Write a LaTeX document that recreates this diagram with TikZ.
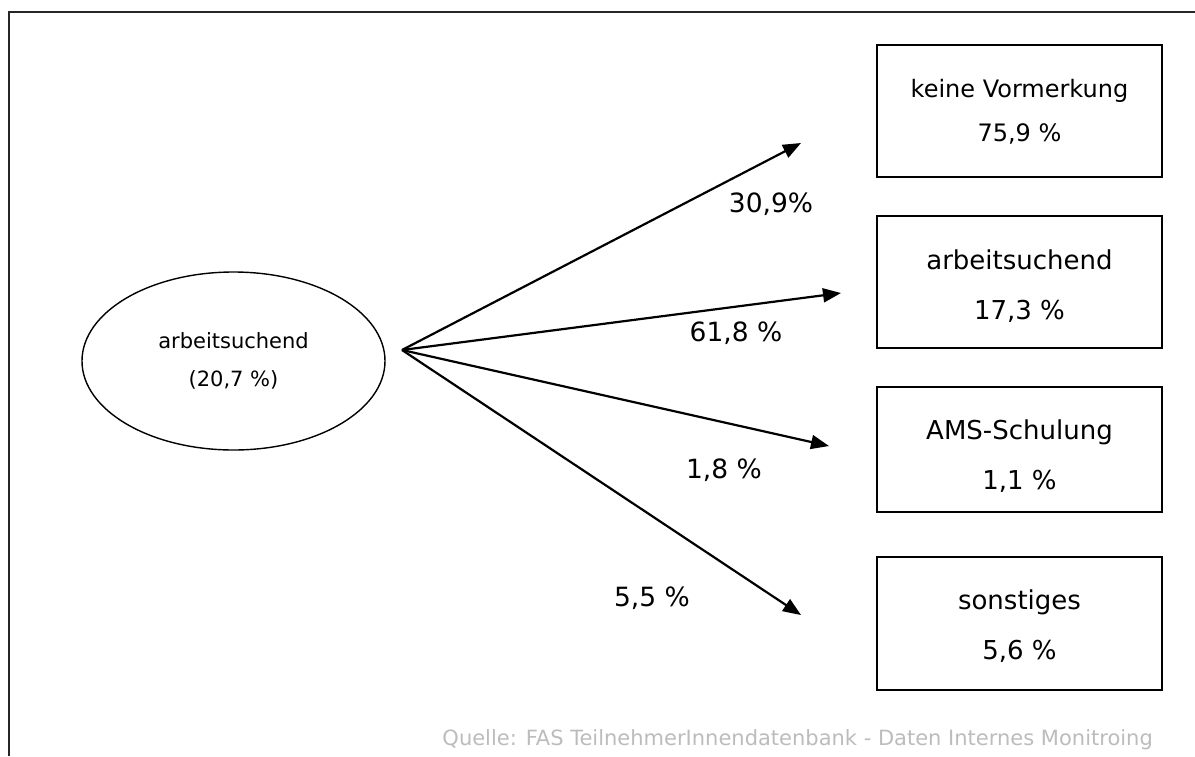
\documentclass[tikz,border=0pt]{standalone}
\usepackage{fontspec}
\setmainfont{DejaVu Sans}
\usetikzlibrary{arrows.meta,shapes.geometric}
\definecolor{footgrey}{RGB}{188,188,188}
\begin{document}
\begin{tikzpicture}[x=1pt,y=-1pt,
  boxnode/.style={draw,line width=1.8pt,minimum width=285pt,inner sep=0pt},
  boxtext/.style={inner sep=0pt,align=center,font=\fontsize{26}{50}\selectfont},
  ellnode/.style={draw,ellipse,line width=1.4pt,minimum width=303pt,minimum height=178pt,inner sep=0pt,align=center,
    font=\fontsize{21}{38}\selectfont},
  pctlabel/.style={font=\fontsize{26.5}{30}\selectfont,inner sep=0pt},
  flow/.style={line width=2.2pt,-{Triangle[length=18pt,width=14pt]}},
  frameline/.style={line width=2.4pt,draw=black!85}
]
\useasboundingbox (0,0) rectangle (1195,756);
\draw[frameline] (9,756) -- (9,12) -- (1195,12);

\node[ellnode] (src) at (233.5,361) {arbeitsuchend\\(20,7 \%)};

\node[boxnode,minimum height=132pt] (b1) at (1019.5,111) {};
\node[boxnode,minimum height=132pt] (b2) at (1019.5,282) {};
\node[boxnode,minimum height=125pt] (b3) at (1019.5,449.5) {};
\node[boxnode,minimum height=133pt] (b4) at (1019.5,623.5) {};

\node[boxtext,font=\fontsize{24}{44}\selectfont] (b1t) at (1019.5,112) {keine Vormerkung\\75,9 \%};
\node[boxtext] (b2t) at (1019.5,286) {arbeitsuchend\\17,3 \%};
\node[boxtext] (b3t) at (1019.5,456) {AMS-Schulung\\1,1 \%};
\node[boxtext] (b4t) at (1019.5,626) {sonstiges\\5,6 \%};

\coordinate (o) at (402,350);
\coordinate (t1) at (801,143);
\coordinate (t2) at (841,293);
\coordinate (t3) at (829,446);
\coordinate (t4) at (801,615);

\draw[flow] (o) -- (t1);
\draw[flow] (o) -- (t2);
\draw[flow] (o) -- (t3);
\draw[flow] (o) -- (t4);

\node[pctlabel] (l1) at (771,204) {30,9\%};
\node[pctlabel] (l2) at (736,333) {61,8 \%};
\node[pctlabel] (l3) at (724,470) {1,8 \%};
\node[pctlabel] (l4) at (652,598) {5,5 \%};

\node[anchor=base east,inner sep=0pt,text=footgrey,font=\fontsize{21}{24}\selectfont] (src2) at (1153,745)
  {Quelle: FAS TeilnehmerInnendatenbank - Daten Internes Monitroing};
\end{tikzpicture}
\end{document}
